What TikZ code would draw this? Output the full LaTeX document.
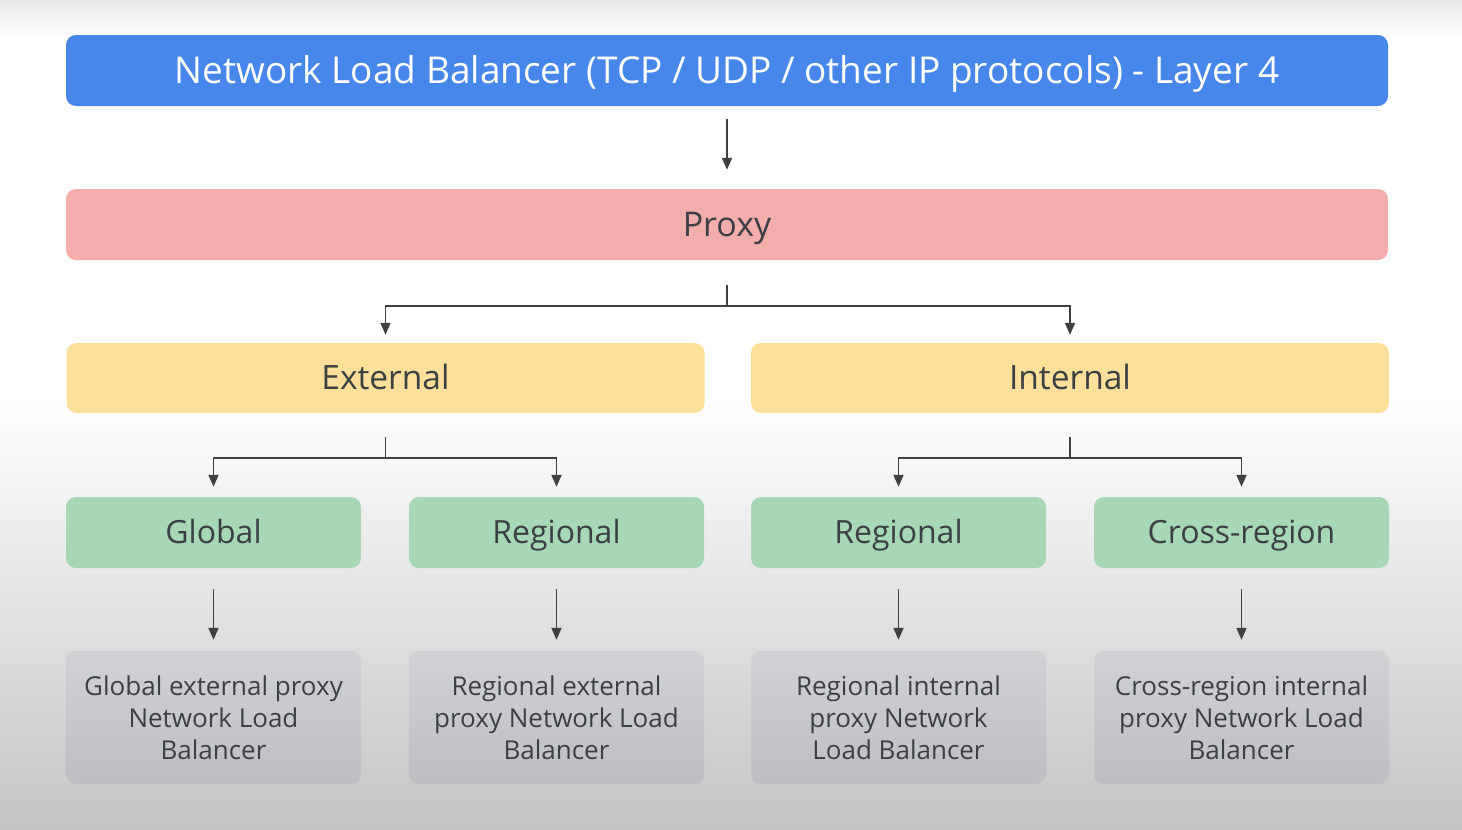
\documentclass[tikz,border=0pt]{standalone}
\usepackage{fontspec}
\setmainfont{Open Sans}
\usepackage{xcolor}
\usetikzlibrary{positioning,calc,arrows.meta}
\definecolor{nlbblue}{HTML}{4786EA}
\definecolor{proxypink}{HTML}{F3AEAC}
\definecolor{scopeyellow}{HTML}{FCE09A}
\definecolor{tiergreen}{HTML}{A8D7B6}
\definecolor{lbgraytop}{HTML}{D1D2D5}
\definecolor{lbgraybot}{HTML}{BDBEC2}
\definecolor{txtgray}{HTML}{3C4043}
\definecolor{linegray}{HTML}{404040}
\begin{document}
\begin{tikzpicture}[
        x=1pt, y=-1pt,
        every node/.style={rounded corners=10pt, inner sep=0pt, align=center, text=txtgray},
        oneline/.style={text height=#1, text depth=0pt},
        wide/.style={minimum width=1322pt, minimum height=71pt},
        half/.style={oneline=23.9pt, minimum width=638pt, minimum height=70pt, fill=scopeyellow, font=\fontsize{33.5}{38}\selectfont},
        tier/.style={oneline=22.8pt, minimum width=295pt, minimum height=71pt, fill=tiergreen, font=\fontsize{32}{38}\selectfont},
        lbbox/.style={minimum width=295pt, minimum height=133pt, top color=lbgraytop, bottom color=lbgraybot, font=\fontsize{26}{32}\selectfont},
        conn/.style={draw=linegray, line width=1.8pt},
        arr/.style={conn, -{Triangle[length=12pt, width=10pt]}}
    ]
    \shade[top color=black!9, bottom color=white] (0,0) rectangle (1462,40);
    \fill[white] (0,40) rectangle (1462,400);
    \shade[top color=white, bottom color=black!23] (0,400) rectangle (1462,830);

    \node[wide, oneline=26.4pt, fill=nlbblue, text=white, font=\fontsize{37}{40}\selectfont] (nlb) at (727,70.5) {Network Load Balancer (TCP / UDP / other IP protocols) - Layer 4};
    \node[wide, oneline=24.3pt, fill=proxypink, font=\fontsize{34}{38}\selectfont] (proxy) at (727,224.5) {Proxy};

    \node[half] (ext) at (385.5,378) {External};
    \node[half] (int) at (1070,378) {Internal};

    \node[tier] (glob) at (213.5,532.5) {Global};
    \node[tier] (regext) at (556.5,532.5) {Regional};
    \node[tier] (regint) at (898.5,532.5) {Regional};
    \node[tier] (cross) at (1241.5,532.5) {Cross-region};

    \node[lbbox] (globlb) at (213.5,717.5) {Global external proxy\\Network Load\\Balancer};
    \node[lbbox] (regextlb) at (556.5,717.5) {Regional external\\proxy Network Load\\Balancer};
    \node[lbbox] (regintlb) at (898.5,717.5) {Regional internal\\proxy Network\\Load Balancer};
    \node[lbbox] (crosslb) at (1241.5,717.5) {Cross-region internal\\proxy Network Load\\Balancer};

    \draw[arr] ([yshift=-13pt]nlb.south) -- ([yshift=19pt]proxy.north);

    \draw[conn] ([yshift=-25pt]proxy.south) -- ([yshift=-46pt]proxy.south);
    \draw[arr] ([yshift=-46pt]proxy.south) -| ([yshift=8pt]ext.north);
    \draw[arr] ([yshift=-46pt]proxy.south) -| ([yshift=8pt]int.north);

    \draw[conn] ([yshift=-24pt]ext.south) -- ([yshift=-45pt]ext.south);
    \draw[arr] ([yshift=-45pt]ext.south) -| ([yshift=10pt]glob.north);
    \draw[arr] ([yshift=-45pt]ext.south) -| ([yshift=10pt]regext.north);

    \draw[conn] ([yshift=-24pt]int.south) -- ([yshift=-45pt]int.south);
    \draw[arr] ([yshift=-45pt]int.south) -| ([yshift=10pt]regint.north);
    \draw[arr] ([yshift=-45pt]int.south) -| ([yshift=10pt]cross.north);

    \draw[arr] ([yshift=-21pt]glob.south) -- ([yshift=11pt]globlb.north);
    \draw[arr] ([yshift=-21pt]regext.south) -- ([yshift=11pt]regextlb.north);
    \draw[arr] ([yshift=-21pt]regint.south) -- ([yshift=11pt]regintlb.north);
    \draw[arr] ([yshift=-21pt]cross.south) -- ([yshift=11pt]crosslb.north);
\end{tikzpicture}
\end{document}
